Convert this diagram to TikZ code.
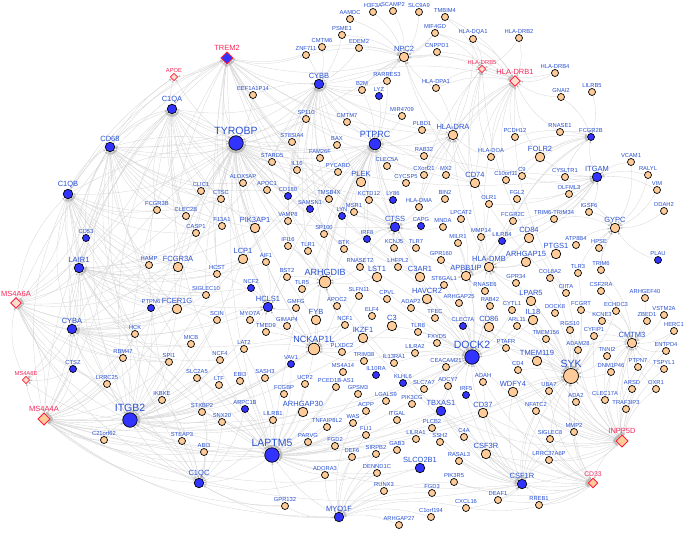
\documentclass[tikz,border=0pt]{standalone}
\usepackage{fontspec}
\newfontfamily\lsans{Liberation Sans}
\usetikzlibrary{shapes.geometric,arrows.meta,backgrounds}
\definecolor{peach}{RGB}{255,204,153}
\definecolor{nblue}{RGB}{51,51,255}
\definecolor{txtblue}{RGB}{40,80,210}
\definecolor{txtred}{RGB}{245,40,90}
\definecolor{dred}{RGB}{255,30,60}
\definecolor{dpale}{RGB}{255,222,205}
\definecolor{edgec}{RGB}{212,212,212}
\definecolor{tipc}{RGB}{185,185,185}
\newcommand\lbT{\lsans\fontsize{5.8}{6}\selectfont}
\newcommand\lbS{\lsans\fontsize{6.8}{7}\selectfont}
\newcommand\lbM{\lsans\fontsize{7.5}{8}\selectfont}
\newcommand\lbB{\lsans\fontsize{9}{10}\selectfont}
\newcommand\lbH{\lsans\fontsize{10.5}{11}\selectfont}
\newcommand\mkn[4]{\node[#1=#2] (#2) at (#3,#4) {};}
\newcommand\hubin[3]{\foreach \s in {#3} {\draw[ed] (\s) to[bend left=#2] (#1);}}
\tikzset{
  base/.style={circle,draw=black,line width=0.7pt,inner sep=0pt},
  lab/.style={text=txtblue,inner sep=0.5pt},
  rlab/.style={text=txtred,inner sep=0.5pt},
  gt/.style={base,fill=peach,minimum size=7pt,label={[lab,font=\lbT]above:#1}},
  gtb/.style={base,fill=nblue,minimum size=7pt,label={[lab,font=\lbT]above:#1}},
  gmo/.style={base,fill=peach,minimum size=9.5pt,label={[lab,font=\lbM]above:#1}},
  gmb/.style={base,fill=nblue,minimum size=9.5pt,label={[lab,font=\lbM]above:#1}},
  gbo/.style={base,fill=peach,minimum size=11.5pt,label={[lab,font=\lbB]above:#1}},
  gbb/.style={base,fill=nblue,minimum size=11.5pt,label={[lab,font=\lbB]above:#1}},
  gho/.style={base,fill=peach,minimum size=15pt,label={[lab,font=\lbH]above:#1}},
  ghb/.style={base,fill=nblue,minimum size=14.5pt,label={[lab,font=\lbH]above:#1}},
  gdr/.style={diamond,draw=dred,line width=0.8pt,fill=dpale,inner sep=0pt,minimum size=7.5pt,label={[rlab,font=\lbT]above:#1}},
  gdc/.style={diamond,draw=dred,line width=0.9pt,fill=peach,inner sep=0pt,minimum size=10pt,label={[rlab,font=\lbS]above:#1}},
  gdp/.style={diamond,draw=dred,line width=0.9pt,fill=dpale,inner sep=0pt,minimum size=11pt,label={[rlab,font=\lbM]above:#1}},
  gdm/.style={diamond,draw=dred,line width=0.9pt,fill=peach,inner sep=0pt,minimum size=12.5pt,label={[rlab,font=\lbM]above:#1}},
  gdt/.style={diamond,draw=dred,line width=0.9pt,fill=nblue,inner sep=0pt,minimum size=12.5pt,label={[rlab,font=\lbM]above:#1}},
  ed/.style={draw=edgec,line width=0.3pt,-{Stealth[length=2.6pt,width=2pt,color=tipc]}},
}
\begin{document}
\begin{tikzpicture}[x=1pt,y=-1pt]
\useasboundingbox (0,0) rectangle (685,545);
% ---- left / outer ring
\mkn{gdr}{APOE}{174}{77}
\mkn{gdt}{TREM2}{227}{58}
\mkn{gmb}{C1QA}{172}{109}
\mkn{gmb}{CD68}{110}{147}
\mkn{gmb}{C1QB}{68}{194}
\mkn{gtb}{CD53}{86}{238}
\mkn{gmb}{LAIR1}{79}{268}
\mkn{gdp}{MS4A6A}{16}{303}
\mkn{gmb}{CYBA}{72}{329}
\mkn{gtb}{CTSZ}{73}{369}
\mkn{gdr}{MS4A6E}{26}{380}
\mkn{gdm}{MS4A4A}{44}{419}
\mkn{ghb}{ITGB2}{130}{420}
\mkn{gt}{LRRC25}{107}{384}
\mkn{gt}{C21orf62}{104}{440}
\mkn{gt}{IKBKE}{162}{400}
\mkn{gmb}{C1QC}{199}{483}
\mkn{gt}{STEAP3}{182}{441}
\mkn{gt}{ABI3}{204}{452}
\mkn{gt}{STXBP2}{202}{412}
\mkn{gtb}{ARPC1B}{245}{409}
\mkn{gt}{SNX20}{222}{422}
\mkn{gt}{SLC2A5}{197}{378}
\mkn{gt}{LTF}{219}{385}
\mkn{gt}{EBI3}{240}{381}
\mkn{gt}{SASH3}{265}{378}
\mkn{ghb}{LAPTM5}{272}{455}
\mkn{gt}{LILRB1}{273}{420}
\mkn{gmo}{ARHGAP30}{303}{412}
\mkn{gt}{UCP2}{305}{384}
\mkn{gt}{FCGBP}{284}{394}
\mkn{gt}{PCED1B-AS1}{336}{387}
\mkn{gt}{TNFAIP8L2}{327}{427}
\mkn{gt}{PARVG}{308}{442}
\mkn{gt}{FGD2}{335}{446}
\mkn{gt}{ADORA3}{325}{475}
\mkn{gt}{GPR132}{285}{506}
\mkn{gmb}{MYO1F}{339}{517}
% ---- bottom middle
\mkn{gt}{MS4A14}{343}{372}
\mkn{gtb}{IL10RA}{376}{375}
\mkn{gtb}{KLHL6}{403}{383}
\mkn{gt}{SLC7A7}{424}{389}
\mkn{gt}{ADCY7}{448}{386}
\mkn{gt}{AOAH}{483}{382}
\mkn{gtb}{IRF5}{466}{395}
\mkn{gt}{GPSM3}{358}{394}
\mkn{gt}{LGALS9}{386}{401}
\mkn{gt}{PIK3CG}{412}{404}
\mkn{gmb}{TBXAS1}{441}{411}
\mkn{gmo}{CD37}{483}{413}
\mkn{gt}{ACPP}{366}{411}
\mkn{gt}{WAS}{353}{423}
\mkn{gt}{ITGAL}{397}{420}
\mkn{gt}{PLCB2}{432}{428}
\mkn{gt}{FLI1}{366}{435}
\mkn{gt}{LILRA1}{416}{439}
\mkn{gt}{SSH2}{440}{442}
\mkn{gt}{C4A}{464}{437}
\mkn{gt}{GAB3}{397}{450}
\mkn{gt}{SIRPB2}{376}{454}
\mkn{gmo}{CSF3R}{486}{454}
\mkn{gt}{DEF6}{352}{457}
\mkn{gt}{RASAL3}{459}{461}
\mkn{gmb}{SLCO2B1}{420}{468}
\mkn{gt}{DENND1C}{377}{473}
\mkn{gt}{PIK3R5}{454}{482}
\mkn{gt}{RUNX3}{384}{491}
\mkn{gt}{FGD3}{432}{493}
\mkn{gt}{CXCL16}{466}{508}
\mkn{gt}{DEAF1}{498}{500}
\mkn{gt}{C1orf194}{431}{517}
\mkn{gt}{ARHGAP27}{399}{525}
% ---- right lower
\mkn{gmb}{CSF1R}{522}{484}
\mkn{gt}{RREB1}{539}{505}
\mkn{gdc}{CD33}{593}{483}
\mkn{gdm}{INPP5D}{622}{441}
\mkn{gt}{LRRC37A6P}{549}{460}
\mkn{gt}{SIGLEC8}{550}{439}
\mkn{gt}{MMP2}{574}{432}
\mkn{gt}{NFATC2}{536}{411}
\mkn{gt}{ADA2}{576}{402}
\mkn{gt}{CLEC17A}{605}{400}
\mkn{gt}{TRAF3IP3}{626}{409}
\mkn{gt}{UBA7}{549}{391}
\mkn{gmo}{WDFY4}{513}{392}
\mkn{gt}{ARSD}{632}{389}
\mkn{gt}{OXR1}{656}{389}
\mkn{gt}{DNM1P46}{611}{372}
\mkn{gt}{PTPN7}{638}{367}
\mkn{gt}{TSPYL1}{664}{369}
\mkn{gho}{SYK}{571}{376}
\mkn{gt}{CD4}{518}{370}
\mkn{gmo}{TMEM119}{537}{361}
\mkn{gt}{TNNI2}{607}{356}
\mkn{gt}{ADAM28}{578}{350}
\mkn{gt}{ENTPD4}{666}{351}
\mkn{gmo}{CMTM3}{632}{343}
\mkn{gt}{TMEM156}{546}{339}
\mkn{gt}{CYFIP1}{594}{336}
\mkn{gt}{HERC1}{674}{331}
\mkn{gt}{RGS10}{570}{330}
\mkn{gt}{ZBED1}{647}{321}
\mkn{gmo}{IL18}{533}{320}
\mkn{gt}{KCNE3}{602}{321}
\mkn{gt}{VSTM2A}{664}{315}
\mkn{gt}{DOCK8}{555}{313}
\mkn{gt}{FCGRT}{581}{310}
\mkn{gt}{ECHDC3}{616}{311}
\mkn{gt}{ARHGEF40}{645}{298}
\mkn{gmo}{LPAR5}{531}{301}
\mkn{gt}{CIITA}{566}{293}
\mkn{gt}{CSF2RA}{601}{291}
\mkn{gt}{GPR34}{516}{283}
\mkn{gt}{COL8A2}{550}{278}
\mkn{gt}{TLR3}{578}{273}
\mkn{gt}{TRIM6}{601}{270}
\mkn{gmo}{ARHGAP15}{526}{262}
\mkn{gtb}{PLAU}{658}{260}
\mkn{gmo}{PTGS1}{556}{254}
\mkn{gt}{HPSE}{599}{248}
\mkn{gt}{ATP8B4}{576}{245}
\mkn{gmo}{CD84}{529}{238}
\mkn{gmo}{GYPC}{615}{228}
\mkn{gt}{TRIM6-TRIM34}{554}{219}
\mkn{gt}{IGSF6}{589}{212}
\mkn{gt}{DDAH2}{664}{211}
\mkn{gt}{FGL2}{517}{199}
\mkn{gt}{OLFML3}{569}{194}
\mkn{gt}{VIM}{657}{190}
\mkn{gt}{RALYL}{648}{175}
\mkn{gt}{VCAM1}{631}{162}
\mkn{gmb}{ITGAM}{597}{177}
\mkn{gt}{CYSLTR1}{565}{177}
\mkn{gt}{C9}{522}{176}
\mkn{gmo}{FOLR2}{540}{157}
\mkn{gtb}{FCGR2B}{591}{137}
\mkn{gt}{RNASE1}{560}{132}
\mkn{gt}{LILRB5}{592}{92}
\mkn{gt}{GNAI2}{561}{97}
\mkn{gt}{HLA-DRB4}{555}{73}
\mkn{gt}{HLA-DRB2}{519}{38}
\mkn{gdp}{HLA-DRB1}{515}{81}
\mkn{gdr}{HLA-DRB5}{482}{69}
\mkn{gt}{HLA-DQA1}{473}{39}
\mkn{gt}{PCDH12}{515}{137}
\mkn{gt}{HLA-DOA}{491}{157}
\mkn{gt}{C10orf11}{506}{180}
% ---- top middle
\mkn{gmo}{CD74}{475}{183}
\mkn{gt}{MX2}{446}{175}
\mkn{gt}{CXorf21}{424}{175}
\mkn{gt}{CYCSP5}{406}{183}
\mkn{gmo}{PLEK}{361}{182}
\mkn{gt}{CLEC5A}{387}{166}
\mkn{gt}{RAB32}{424}{156}
\mkn{gmo}{HLA-DRA}{453}{135}
\mkn{gt}{PLBD1}{422}{130}
\mkn{gt}{MIR4709}{402}{116}
\mkn{gbb}{PTPRC}{375}{144}
\mkn{gt}{CMTM7}{347}{122}
\mkn{gtb}{LYZ}{379}{96}
\mkn{gt}{B2M}{362}{90}
\mkn{gt}{RARRES3}{387}{81}
\mkn{gt}{HLA-DPA1}{436}{88}
\mkn{gmo}{NPC2}{404}{57}
\mkn{gt}{CNPPD1}{437}{52}
\mkn{gt}{EDEM2}{359}{48}
\mkn{gt}{MIF4GD}{435}{33}
\mkn{gt}{TMBIM4}{445}{17}
\mkn{gt}{SLC9A9}{419}{12}
\mkn{gt}{SCAMP2}{393}{11}
\mkn{gt}{H3F3A}{373}{12}
\mkn{gt}{AAMDC}{350}{19}
\mkn{gt}{PSME1}{342}{35}
\mkn{gt}{CMTM6}{322}{47}
\mkn{gt}{ZNF711}{306}{55}
\mkn{gt}{EEF1A1P14}{253}{95}
\mkn{gmb}{CYBB}{319}{84}
\mkn{gt}{SP110}{306}{119}
\mkn{gt}{ST8SIA4}{292}{142}
\mkn{gt}{BAX}{337}{145}
\mkn{ghb}{TYROBP}{236}{143}
\mkn{gt}{FAM26F}{320}{158}
\mkn{gt}{STARD5}{272}{162}
\mkn{gt}{IL16}{297}{170}
\mkn{gt}{PYCARD}{338}{172}
\mkn{gt}{ALOX5AP}{243}{183}
\mkn{gt}{APOC1}{267}{190}
\mkn{gt}{CLIC1}{201}{191}
\mkn{gt}{CTSC}{221}{199}
\mkn{gtb}{CD180}{288}{196}
\mkn{gt}{TMSB4X}{329}{199}
\mkn{gtb}{SAMSN1}{310}{209}
\mkn{gtb}{LYN}{342}{216}
% ---- left middle
\mkn{gt}{FCGR3B}{157}{210}
\mkn{gt}{CLEC2B}{186}{216}
\mkn{gt}{F13A1}{222}{226}
\mkn{gmo}{PIK3AP1}{255}{228}
\mkn{gt}{VAMP8}{288}{221}
\mkn{gt}{CASP1}{196}{233}
\mkn{gt}{SP100}{324}{234}
\mkn{gt}{IFI16}{288}{246}
\mkn{gt}{TLR1}{308}{251}
\mkn{gt}{BTK}{344}{249}
\mkn{gmo}{FCGR3A}{178}{267}
\mkn{gt}{HAMP}{149}{265}
\mkn{gmo}{LCP1}{243}{259}
\mkn{gt}{AIF1}{266}{262}
\mkn{gt}{HCST}{217}{274}
\mkn{gt}{BST2}{287}{277}
\mkn{gbo}{ARHGDIB}{325}{282}
\mkn{gt}{TLR5}{302}{289}
\mkn{gtb}{NCF2}{251}{288}
\mkn{gt}{SIGLEC10}{206}{295}
\mkn{gtb}{PTPN6}{151}{308}
\mkn{gmb}{HCLS1}{268}{307}
\mkn{gt}{GMFG}{296}{308}
\mkn{gt}{APOC2}{337}{306}
\mkn{gmo}{FCER1G}{177}{309}
\mkn{gt}{SCIN}{217}{320}
\mkn{gt}{MYO7A}{250}{320}
\mkn{gmo}{FYB}{316}{320}
\mkn{gt}{GIMAP4}{287}{326}
\mkn{gt}{TMED9}{266}{332}
\mkn{gt}{HCK}{135}{334}
\mkn{gt}{MICB}{191}{344}
\mkn{gt}{LAT2}{244}{349}
\mkn{gbo}{NCKAP1L}{314}{349}
\mkn{gt}{PLXDC2}{342}{352}
\mkn{gt}{NCF4}{220}{360}
\mkn{gtb}{VAV1}{291}{364}
\mkn{gt}{RBM47}{123}{358}
\mkn{gt}{SPI1}{169}{362}
% ---- centre
\mkn{gt}{KCTD12}{369}{200}
\mkn{gtb}{LY86}{393}{200}
\mkn{gt}{BIN2}{445}{199}
\mkn{gt}{MSR1}{354}{212}
\mkn{gt}{HLA-DMA}{419}{207}
\mkn{gt}{OLR1}{489}{204}
\mkn{gt}{LPCAT2}{461}{219}
\mkn{gt}{FCGR2C}{513}{221}
\mkn{gmb}{CTSS}{395}{227}
\mkn{gtb}{CAPG}{421}{226}
\mkn{gt}{MNDA}{443}{227}
\mkn{gt}{MMP14}{481}{237}
\mkn{gtb}{LILRB4}{502}{241}
\mkn{gtb}{IRF8}{367}{239}
\mkn{gt}{KCNJ5}{394}{248}
\mkn{gt}{TLR7}{416}{248}
\mkn{gt}{MILR1}{458}{243}
\mkn{gt}{GPR160}{441}{260}
\mkn{gt}{RNASET2}{360}{267}
\mkn{gt}{LHFPL2}{398}{267}
\mkn{gmo}{C3AR1}{420}{277}
\mkn{gmo}{APBB1IP}{466}{276}
\mkn{gmo}{HLA-DMB}{489}{267}
\mkn{gmo}{LST1}{377}{277}
\mkn{gt}{ST6GAL1}{444}{285}
\mkn{gt}{RNASE6}{485}{291}
\mkn{gt}{SLFN11}{359}{296}
\mkn{gt}{CPVL}{387}{299}
\mkn{gmo}{HAVCR2}{427}{299}
\mkn{gt}{ARHGAP25}{459}{303}
\mkn{gt}{RAB42}{490}{306}
\mkn{gt}{CYTL1}{512}{310}
\mkn{gt}{ELF4}{372}{316}
\mkn{gt}{ADAP2}{411}{308}
\mkn{gt}{TFEC}{435}{318}
\mkn{gmo}{C3}{392}{326}
\mkn{gtb}{CLEC7A}{463}{326}
\mkn{gmo}{CD86}{489}{327}
\mkn{gt}{ARL11}{517}{326}
\mkn{gt}{NCF1}{345}{325}
\mkn{gmo}{IKZF1}{363}{338}
\mkn{gt}{TLR8}{418}{332}
\mkn{gt}{FXYD5}{437}{343}
\mkn{gt}{PTAFR}{506}{348}
\mkn{ghb}{DOCK2}{472}{357}
\mkn{gt}{LILRA2}{415}{353}
\mkn{gt}{TRIM38}{364}{361}
\mkn{gt}{IL13RA1}{394}{363}
\mkn{gt}{CEACAM21}{446}{367}
% ---- connectors
\begin{pgfonlayer}{background}
\hubin{TREM2}{16}{TYROBP,CYBB,PTPRC,C1QA,NPC2,CD68,HLA-DRA,CD74,LAPTM5,DOCK2,ITGB2,C1QB,LAIR1,SYK,FCER1G,CSF1R,ITGAM,APBB1IP,CTSS,C3AR1,HCLS1,NCKAP1L,PIK3AP1,LCP1,EEF1A1P14,ZNF711,CMTM6,ST8SIA4,MS4A6A}
\hubin{APOE}{12}{C1QA,CD68,TYROBP,C1QB,TREM2}
\hubin{C1QA}{18}{CD68,C1QB,TYROBP,LAIR1,CYBA,ST8SIA4,STARD5,ALOX5AP,APOC1,CLIC1,CTSC,F13A1,PIK3AP1,FCGR3B,CASP1,CLEC2B,C1QC,LAPTM5,ITGB2,CYBB,PTPRC,MS4A4A,HCST,CD53}
\hubin{CD68}{18}{C1QB,LAIR1,CYBA,CD53,FCGR3B,CLEC2B,CLIC1,CTSC,CASP1,HAMP,F13A1,TYROBP,ALOX5AP,APOC1,FCER1G,PIK3AP1,HCK,LAPTM5,ITGB2,C1QC,CTSS,CYBB,NPC2,SP110}
\hubin{C1QB}{18}{LAIR1,CD53,CYBA,FCGR3B,HAMP,FCGR3A,FCER1G,CLEC2B,CASP1,SIGLEC10,PTPN6,HCK,ITGB2,C1QC,LAPTM5,TYROBP,CTSC,HCST,SCIN,MS4A6A,MS4A4A}
\hubin{LAIR1}{14}{CD53,HAMP,FCGR3A,FCER1G,PTPN6,HCK,SIGLEC10,HCST,CASP1,F13A1,LCP1,PIK3AP1,AIF1,CYBA,ITGB2,LAPTM5,SPI1,NCF2,HCLS1}
\hubin{MS4A6A}{20}{C1QB,LAIR1,CYBA,CTSZ,MS4A6E,ITGB2,C1QA,CD68,TYROBP,FCER1G,HCK,PTPN6,CD53,LAPTM5,C1QC,HAMP,RBM47,LRRC25,SPI1,FCGR3A}
\hubin{CYBA}{14}{HCK,RBM47,SPI1,PTPN6,FCER1G,MICB,SIGLEC10,SCIN,NCF4,NCF2,CTSZ,LRRC25,ITGB2,HCLS1,LCP1,CYBB,NCF1}
\hubin{MS4A6E}{16}{MS4A4A,CTSZ,ITGB2,CYBA,LAIR1}
\hubin{MS4A4A}{18}{ITGB2,LAPTM5,C1QC,CYBA,CTSZ,LAIR1,C21orf62,LRRC25,IKBKE,STEAP3,ABI3,SPI1,RBM47,HCK,FCER1G,TYROBP,CD68,C1QB,SLC2A5,STXBP2,MYO1F,DOCK2,CSF1R,SYK,TBXAS1,CD37,SLCO2B1,NCKAP1L,C3,GPR132,MS4A6A}
\hubin{ITGB2}{14}{SPI1,IKBKE,LRRC25,C21orf62,STEAP3,ABI3,SLC2A5,STXBP2,SNX20,LTF,EBI3,NCF4,LAT2,MICB,SCIN,HCK,RBM47,FCER1G,PTPN6,LAPTM5,ARPC1B,SASH3,VAV1,LILRB1,ARHGAP30,C1QC,CTSZ,NCKAP1L,DOCK2,HCLS1,LCP1}
\hubin{C1QC}{16}{ABI3,STEAP3,C21orf62,GPR132,LAPTM5,ITGB2,STXBP2,SNX20,ARPC1B,IKBKE,SLC2A5,LILRB1,MYO1F,ADORA3}
\hubin{LAPTM5}{12}{ABI3,STXBP2,SNX20,ARPC1B,LILRB1,ARHGAP30,PARVG,FGD2,ADORA3,GPR132,MYO1F,TNFAIP8L2,UCP2,FCGBP,SASH3,EBI3,LTF,SLC2A5,VAV1,NCKAP1L,LAT2,DEF6,FLI1,WAS,PCED1B-AS1,MS4A14,DOCK2,TBXAS1,CSF1R,SYK,ITGAL,LGALS9,GPSM3,ACPP,SIRPB2,DENND1C,GAB3}
\hubin{TYROBP}{12}{FCER1G,C1QA,C1QB,CD68,LAIR1,CYBA,PTPRC,CYBB,ST8SIA4,STARD5,ALOX5AP,APOC1,CTSC,F13A1,PIK3AP1,LCP1,AIF1,HCST,SP110,BAX,FAM26F,IL16,PYCARD,CD180,SAMSN1,VAMP8,CLIC1,CASP1,FCGR3A,SIGLEC10,HCLS1,ARHGDIB,NCKAP1L,FYB,DOCK2,LAPTM5,ITGB2,CTSS,C3AR1,LY86,SYK,CSF1R,ITGAM,TMSB4X,EEF1A1P14}
\hubin{CYBB}{12}{ZNF711,CMTM6,EEF1A1P14,SP110,ST8SIA4,BAX,FAM26F,IL16,PYCARD,NPC2,B2M,EDEM2,PSME1,CMTM7,STARD5,TMSB4X,SAMSN1,LYZ,RARRES3,MIR4709,PTPRC,CD180,VAMP8,SP100,IFI16,TLR1,HLA-DRA,CD74,CTSS}
\hubin{PTPRC}{12}{LYZ,B2M,RARRES3,MIR4709,PLBD1,CLEC5A,PLEK,CYCSP5,CMTM7,KCTD12,LY86,MSR1,LYN,CD180,BTK,IRF8,CTSS,SAMSN1,TMSB4X,SP100,CXorf21,RAB32,HLA-DRA,LCP1,ARHGDIB,NCKAP1L,DOCK2,HCLS1,FYB,LST1,C3AR1,LAPTM5,ITGB2}
\hubin{NPC2}{14}{H3F3A,SCAMP2,SLC9A9,TMBIM4,MIF4GD,CNPPD1,AAMDC,PSME1,EDEM2,CMTM6,ZNF711,RARRES3,B2M,HLA-DPA1,LYZ,CD74,HLA-DRA}
\hubin{HLA-DRB1}{16}{HLA-DRA,HLA-DPA1,HLA-DQA1,HLA-DRB5,CD74,HLA-DMA,HLA-DMB,HLA-DOA,HLA-DRB4,HLA-DRB2,CIITA,FOLR2,GNAI2,CYBB,NPC2,PCDH12,RNASE1,MIF4GD,CNPPD1,TMBIM4,C10orf11,MX2,CXorf21}
\hubin{HLA-DRB5}{16}{HLA-DRA,HLA-DPA1,HLA-DQA1,CD74,HLA-DMA,HLA-DMB,HLA-DOA,HLA-DRB2,HLA-DRB4,CIITA,NPC2,MIF4GD,TMBIM4}
\hubin{HLA-DRA}{12}{HLA-DPA1,CD74,HLA-DMA,HLA-DMB,HLA-DOA,PLBD1,RAB32,MX2,CXorf21,CIITA,HLA-DQA1}
\hubin{FCGR2B}{16}{LILRB5,RNASE1,FOLR2,ITGAM,CYSLTR1,C9,PCDH12,HLA-DOA,GNAI2,C10orf11,LILRB4,FCGR2C}
\hubin{ITGAM}{-16}{OLFML3,IGSF6,CYSLTR1,FOLR2,C9,FCGR2C,FGL2,VCAM1,RALYL,VIM,TRIM6-TRIM34,CD84,LILRB4,OLR1,MMP14}
\hubin{GYPC}{18}{VIM,DDAH2,RALYL,VCAM1,PLAU,IGSF6,OLFML3,HPSE,ATP8B4,TRIM6-TRIM34,TRIM6,TLR3,CSF2RA}
\hubin{CMTM3}{18}{ARHGEF40,ZBED1,VSTM2A,HERC1,ENTPD4,TSPYL1,PTPN7,ECHDC3,KCNE3,CSF2RA,TRIM6,DNM1P46,TNNI2,CYFIP1,ADAM28,FCGRT,ARSD,OXR1,TRAF3IP3,CLEC17A}
\hubin{INPP5D}{-18}{SYK,CMTM3,CSF1R,DOCK2,CD37,TBXAS1,ADA2,MMP2,CLEC17A,TRAF3IP3,ARSD,OXR1,PTPN7,ZBED1,HERC1,ENTPD4,TSPYL1,DNM1P46,TNNI2,CYFIP1,WDFY4,UBA7,CD86,IL18,TMEM119,CSF3R,SIGLEC8,LRRC37A6P,NFATC2,ADAM28,RGS10,CD4}
\hubin{CD33}{-18}{SYK,CSF1R,DOCK2,CXCL16,DEAF1,RREB1,CSF3R,RASAL3,PIK3R5,MMP2,SIGLEC8,LRRC37A6P,NFATC2,CD37,TBXAS1,IRF5,INPP5D,WDFY4,UBA7,ADA2}
\hubin{CSF1R}{-16}{RREB1,LRRC37A6P,SIGLEC8,NFATC2,CSF3R,RASAL3,CXCL16,DEAF1,PIK3R5,CD37,WDFY4,SYK,UBA7,MMP2,C4A,SSH2,PLCB2,TBXAS1,IRF5,AOAH,ADCY7}
\hubin{MYO1F}{-16}{ARHGAP27,C1orf194,RUNX3,FGD3,CXCL16,DENND1C,DEF6,SLCO2B1,GAB3,SIRPB2,GPR132,ADORA3,PIK3R5,FLI1,WAS}
\hubin{SYK}{12}{TMEM119,CD4,WDFY4,UBA7,ADA2,NFATC2,IL18,TMEM156,ADAM28,RGS10,CYFIP1,DOCK8,FCGRT,CIITA,LPAR5,GPR34,COL8A2,TLR3,PTAFR,ARL11,CYTL1,CD86,CD37,TNNI2,DNM1P46,CLEC17A,MMP2,SIGLEC8,KCNE3,ECHDC3}
\hubin{DOCK2}{12}{CLEC7A,CD86,CEACAM21,FXYD5,LILRA2,TLR8,TFEC,HAVCR2,ADAP2,ARHGAP25,RAB42,RNASE6,ST6GAL1,APBB1IP,HLA-DMB,C3AR1,C3,IKZF1,IL13RA1,TRIM38,IRF5,ADCY7,AOAH,SLC7A7,KLHL6,TBXAS1,CD37,PTAFR,PLCB2,IL18,CYTL1,ARL11,GPR160,MILR1}
\hubin{CTSS}{12}{LY86,CAPG,MNDA,KCNJ5,TLR7,IRF8,KCTD12,MSR1,BTK,LHFPL2,RNASET2,HLA-DMA,BIN2,LYN}
\hubin{APBB1IP}{12}{GPR160,MILR1,MMP14,LILRB4,ST6GAL1,RNASE6,HLA-DMB,LPCAT2,OLR1,FCGR2C,FGL2,CD84}
\hubin{ARHGDIB}{12}{BST2,TLR5,TLR1,IFI16,BTK,APOC2,GMFG,SP100,NCF1,LST1,RNASET2}
\hubin{NCKAP1L}{12}{GIMAP4,TMED9,PLXDC2,TRIM38,NCF1,SLFN11,ELF4,FYB,APOC2,VAV1,MYO7A,GMFG,IKZF1,LAT2}
\hubin{HCLS1}{12}{NCF2,AIF1,MYO7A,GMFG,TMED9,GIMAP4,BST2,LCP1,SCIN,HCST}
\hubin{HLA-DMB}{12}{ARHGAP15,CD84,GPR34,LPAR5,RNASE6,CYTL1,PTGS1,FCGR2C}
\end{pgfonlayer}
\end{tikzpicture}
\end{document}
